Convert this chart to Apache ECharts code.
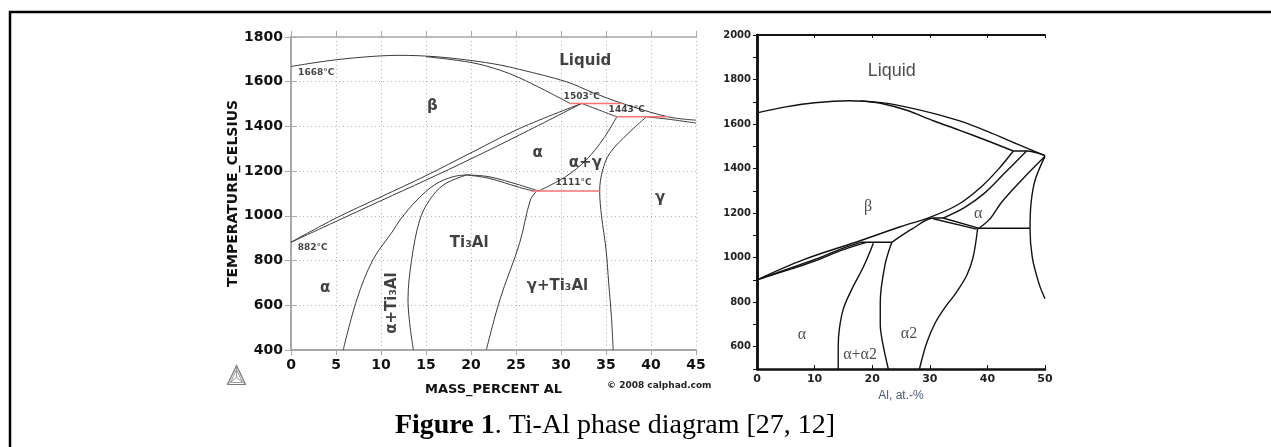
<!DOCTYPE html>
<html>
<head>
<meta charset="utf-8">
<script src="https://cdn.jsdelivr.net/npm/echarts@6/dist/echarts.min.js"></script>
<style>
html, body { margin: 0; padding: 0; background: #fff; }
#chart { width: 1271px; height: 447px; }
</style>
</head>
<body>
<div id="chart"></div>
<script>
// ---- (a) calphad diagram, mass % Al vs temperature C ----
var leftXTicks = [0, 45, 5];
var leftYTicks = [400, 1800, 200];

var leftLiquidus = [[0, 1668], [4, 1693], [8, 1710], [12, 1718], [16, 1712], [20, 1695], [23.2, 1675], [25.4, 1655], [30.6, 1600], [33.5, 1552], [36.8, 1503], [41.9, 1443], [45, 1428]];
var leftSolidus = [[15, 1712], [20, 1686], [23.2, 1652], [25.4, 1617], [28, 1566], [31, 1503]];
var leftTransusUpper = [[0, 882], [5, 990], [10, 1085], [15, 1180], [20, 1282], [25.4, 1391], [32.3, 1503]];
var leftTransusLower = [[0, 882], [5, 975], [10, 1068], [15, 1160], [20, 1255], [25.4, 1362], [32.3, 1503]];
var leftAlphaBeta = [[32.3, 1503], [36.2, 1443]];
var leftAlphaGamma = [[36.2, 1443], [34.8, 1350], [32.8, 1250], [30.5, 1175], [27.5, 1111]];
var leftGamma = [[39.5, 1443], [37.5, 1370], [35.4, 1279], [34.6, 1200], [34.3, 1111], [34.5, 1000], [35, 850], [35.3, 700], [35.6, 550], [35.8, 400]];
var leftGammaSolidus = [[39.5, 1443], [42, 1432], [45, 1415]];
var leftAlphaTi3Al = [[5.8, 400], [7.3, 624], [9.1, 803], [11.4, 937], [12.1, 981], [14, 1071], [16, 1140], [18, 1175], [19.5, 1183]];
var leftTi3AlLeft = [[13.6, 400], [13, 624], [13.4, 803], [14.3, 981], [15.4, 1071], [17, 1140], [19.5, 1183]];
var leftDomeUpper = [[19.5, 1183], [22, 1175], [25.4, 1138], [27.5, 1111]];
var leftDomeLower = [[19.5, 1183], [22, 1168], [25.4, 1127], [27, 1111]];
var leftTi3AlRight = [[21.7, 400], [23.2, 624], [25.4, 878], [26.6, 1071], [27.3, 1111]];
var leftIsotherms = [
    [[31, 1503], [36.8, 1503]],
    [[36.2, 1443], [41.9, 1443]],
    [[26.7, 1111], [34.3, 1111]]
];

var leftPhaseLabels = [
    ['Liquid', 32.7, 1694],
    ['β', 15.7, 1491],
    ['α', 27.4, 1281],
    ['α+γ', 32.7, 1236],
    ['γ', 41, 1080],
    ['Ti₃Al', 19.8, 878],
    ['α', 3.8, 677],
    ['γ+Ti₃Al', 29.6, 686],
    ['α+Ti₃Al', 11.2, 610, 90]
];
var leftTempLabels = [
    ['1668°C', 2.8, 1639],
    ['1503°C', 32.3, 1531],
    ['1443°C', 37.3, 1473],
    ['1111°C', 31.4, 1147],
    ['882°C', 2.4, 856]
];

// ---- (b) at.% Al vs temperature C ----
var rightXTicks = [0, 50, 10];
var rightYTicks = [500, 2000, 100];

var rightLiquidus = [[0, 1650], [5, 1677], [10, 1696], [16, 1705], [22, 1695], [26, 1676], [30.6, 1648], [35.2, 1614], [40, 1567], [45, 1512], [50, 1458]];
var rightSolidus = [[18, 1704], [22, 1690], [26, 1662], [30.6, 1615], [35.2, 1572], [40, 1525], [44.5, 1479]];
var rightPeritectic = [[44.5, 1479], [46.8, 1479], [50, 1458]];
var rightBeta = [[0, 900], [8, 990], [17.9, 1076], [25, 1140], [30, 1181], [35, 1240], [39, 1320], [42, 1400], [44.5, 1479]];
var rightAlphaBeta1 = [[0, 900], [6, 955], [10, 992], [15, 1043], [18, 1069]];
var rightAlphaBeta2 = [[0, 900], [6, 950], [10, 985], [15, 1036], [19, 1069]];
var rightAlphaBeta3 = [[46.8, 1479], [43, 1380], [39.5, 1290], [36, 1225], [32.3, 1178]];
var rightEutectoid1 = [[18, 1069], [23.4, 1069]];
var rightAlpha2Top = [[23.4, 1069], [27, 1130], [30.6, 1178], [32.3, 1178]];
var rightDouble1 = [[30.6, 1175], [38.1, 1128]];
var rightDouble2 = [[32.3, 1178], [38.3, 1134]];
var rightEutectoid2 = [[38.1, 1132], [47.4, 1132]];
var rightAlphaRight = [[50, 1455], [46, 1350], [42.5, 1250], [40.4, 1173], [38.5, 1132]];
var rightGamma = [[50, 1455], [48.3, 1350], [47.6, 1250], [47.4, 1132], [47.8, 1000], [49, 880], [50, 816]];
var rightAlphaAlpha2 = [[20.2, 1065], [18.5, 960], [16.5, 860], [15, 771], [14.3, 680], [14.1, 600], [14.1, 500]];
var rightAlpha2Left = [[23.4, 1069], [22.2, 965], [21.4, 800], [21.4, 700], [21.8, 620], [22.8, 500]];
var rightAlpha2Right = [[38.3, 1130], [37.5, 1000], [36.4, 920], [34.5, 840], [32.9, 786], [31, 710], [29.5, 620], [28.2, 500]];

var rightPhaseLabels = [
    ['β', 19.3, 1227],
    ['α', 38.4, 1196],
    ['α', 7.8, 652],
    ['α+α2', 17.9, 563],
    ['α2', 26.4, 660]
];
var rightLiquidLabel = [['Liquid', 23.4, 1840]];

var SANS = 'DejaVu Sans';
var SERIF = 'Liberation Serif';

function curve(data, axis, color, width) {
    return {
        type: 'line',
        xAxisIndex: axis,
        yAxisIndex: axis,
        data: data,
        symbol: 'none',
        smooth: 0.35,
        silent: true,
        lineStyle: { color: color, width: width },
        z: 3
    };
}

function labels(list, axis, style) {
    return {
        type: 'scatter',
        xAxisIndex: axis,
        yAxisIndex: axis,
        symbolSize: 0,
        silent: true,
        z: 5,
        data: list.map(function (l) {
            var item = { value: [l[1], l[2]], name: l[0] };
            if (l[3]) {
                item.label = { rotate: l[3] };
            }
            return item;
        }),
        label: Object.assign({ show: true, position: 'inside', formatter: '{b}' }, style)
    };
}

var series = [];
[leftLiquidus, leftSolidus, leftTransusUpper, leftTransusLower, leftAlphaBeta, leftAlphaGamma,
    leftGamma, leftGammaSolidus, leftAlphaTi3Al, leftTi3AlLeft, leftDomeUpper, leftDomeLower,
    leftTi3AlRight].forEach(function (d) {
    series.push(curve(d, 0, '#3a3a3a', 1));
});
leftIsotherms.forEach(function (d) {
    series.push(curve(d, 0, '#ff7070', 1.5));
});
[rightLiquidus, rightSolidus, rightPeritectic, rightBeta, rightAlphaBeta1, rightAlphaBeta2,
    rightAlphaBeta3, rightEutectoid1, rightAlpha2Top, rightDouble1, rightDouble2, rightEutectoid2,
    rightAlphaRight, rightGamma, rightAlphaAlpha2, rightAlpha2Left, rightAlpha2Right].forEach(function (d) {
    series.push(curve(d, 2, '#111', 1.4));
});
series.push(labels(leftPhaseLabels, 0, { fontFamily: SANS, fontWeight: 'bold', fontSize: 15, color: '#111' }));
series.push(labels(leftTempLabels, 0, { fontFamily: SANS, fontWeight: 'bold', fontSize: 9, color: '#111' }));
series.push(labels(rightPhaseLabels, 2, { fontFamily: SERIF, fontSize: 16, color: '#222' }));
series.push(labels(rightLiquidLabel, 2, { fontFamily: 'Liberation Sans', fontSize: 18, color: '#222' }));

var gray = '#a8a8a8';
var dotted = { show: true, lineStyle: { color: '#b5b5b5', type: [1, 3], width: 1 } };
var plain = function (v) { return String(v); };

var option = {
    animation: false,
    backgroundColor: '#fff',
    grid: [
        { left: 291, top: 37, width: 405, height: 313 },
        { left: 757, top: 35, width: 288, height: 334 }
    ],
    xAxis: [
        {
            gridIndex: 0, type: 'value', min: leftXTicks[0], max: leftXTicks[1], interval: leftXTicks[2],
            name: 'MASS_PERCENT AL', nameLocation: 'middle', nameGap: 33,
            nameTextStyle: { fontFamily: SANS, fontWeight: 'bold', fontSize: 13, color: '#111' },
            axisLine: { lineStyle: { color: gray, width: 2 } },
            axisTick: { length: 5, lineStyle: { color: gray } },
            axisLabel: { fontFamily: SANS, fontWeight: 'bold', fontSize: 14, color: '#111', margin: 8, formatter: plain },
            splitLine: dotted
        },
        {
            gridIndex: 0, type: 'value', position: 'top', min: leftXTicks[0], max: leftXTicks[1], interval: leftXTicks[2],
            axisLine: { lineStyle: { color: gray, width: 1.5 } },
            axisTick: { length: 6, lineStyle: { color: gray } },
            axisLabel: { show: false },
            splitLine: { show: false }
        },
        {
            gridIndex: 1, type: 'value', min: rightXTicks[0], max: rightXTicks[1], interval: rightXTicks[2],
            name: 'Al, at.-%', nameLocation: 'middle', nameGap: 21,
            nameTextStyle: { fontFamily: 'Liberation Sans', fontSize: 12, color: '#4a587a' },
            axisLine: { lineStyle: { color: '#111', width: 2.5 } },
            axisTick: { inside: true, length: 4, lineStyle: { color: '#111' } },
            axisLabel: { fontFamily: SANS, fontWeight: 'bold', fontSize: 11, color: '#222', margin: 5, formatter: plain },
            splitLine: { show: false }
        },
        {
            gridIndex: 1, type: 'value', position: 'top', min: rightXTicks[0], max: rightXTicks[1], interval: rightXTicks[2],
            axisLine: { lineStyle: { color: '#111', width: 2 } },
            axisTick: { inside: true, length: 3, lineStyle: { color: '#111' } },
            axisLabel: { show: false },
            splitLine: { show: false }
        }
    ],
    yAxis: [
        {
            gridIndex: 0, type: 'value', min: leftYTicks[0], max: leftYTicks[1], interval: leftYTicks[2],
            name: 'TEMPERATURE_CELSIUS', nameLocation: 'middle', nameGap: 51, nameRotate: 90,
            nameTextStyle: { fontFamily: SANS, fontWeight: 'bold', fontSize: 14, color: '#111' },
            axisLine: { lineStyle: { color: gray, width: 2 } },
            axisTick: { length: 6, lineStyle: { color: gray } },
            axisLabel: { fontFamily: SANS, fontWeight: 'bold', fontSize: 14, color: '#111', margin: 8, formatter: plain },
            splitLine: dotted
        },
        {
            gridIndex: 0, type: 'value', position: 'right', min: leftYTicks[0], max: leftYTicks[1], interval: leftYTicks[2],
            axisLine: { show: true, lineStyle: { color: gray, width: 1.5 } },
            axisTick: { show: true, length: 6, lineStyle: { color: gray } },
            axisLabel: { show: false },
            splitLine: { show: false }
        },
        {
            gridIndex: 1, type: 'value', min: rightYTicks[0], max: rightYTicks[1], interval: rightYTicks[2],
            axisLine: { lineStyle: { color: '#111', width: 2.5 } },
            axisTick: { length: 4, lineStyle: { color: '#111' } },
            axisLabel: {
                fontFamily: SANS, fontWeight: 'bold', fontSize: 10, color: '#222', margin: 6,
                formatter: function (v) { return v % 200 === 0 ? String(v) : ''; }
            },
            splitLine: { show: false }
        },
        {
            gridIndex: 1, type: 'value', position: 'right', min: rightYTicks[0], max: rightYTicks[1], interval: rightYTicks[2],
            axisLine: { show: true, lineStyle: { color: '#111', width: 2.5 } },
            axisTick: { show: false },
            axisLabel: { show: false },
            splitLine: { show: false }
        }
    ],
    series: series,
    graphic: [
        {
            type: 'rect', silent: true,
            shape: { x: 10, y: 12, width: 1300, height: 500 },
            style: { fill: 'none', stroke: '#000', lineWidth: 2.5 }
        },
        {
            type: 'text', silent: true, left: 607, top: 381,
            style: { text: '© 2008 calphad.com', fontFamily: SANS, fontWeight: 'bold', fontSize: 9, fill: '#222' }
        },
        {
            type: 'group', silent: true, left: 225, top: 363,
            children: [
                { type: 'polygon', shape: { points: [[9, 0], [0, 19], [18, 19]] }, style: { fill: 'none', stroke: '#777', lineWidth: 1.2 } },
                { type: 'polygon', shape: { points: [[9, 4], [3, 17], [15, 17]] }, style: { fill: 'none', stroke: '#999', lineWidth: 1 } },
                { type: 'polyline', shape: { points: [[9, 0], [9, 12], [0, 19]] }, style: { fill: 'none', stroke: '#999', lineWidth: 1 } },
                { type: 'line', shape: { x1: 9, y1: 12, x2: 18, y2: 19 }, style: { stroke: '#999', lineWidth: 1 } }
            ]
        },
        {
            type: 'text', silent: true, x: 615, y: 412,
            style: {
                text: '{b|Figure 1}. Ti-Al phase diagram [27, 12]',
                align: 'center',
                fontFamily: SERIF, fontSize: 28, fill: '#000',
                rich: { b: { fontFamily: SERIF, fontSize: 28, fontWeight: 'bold', fill: '#000' } }
            }
        }
    ]
};

var chart = echarts.init(document.getElementById('chart'));
chart.setOption(option);
</script>
</body>
</html>
